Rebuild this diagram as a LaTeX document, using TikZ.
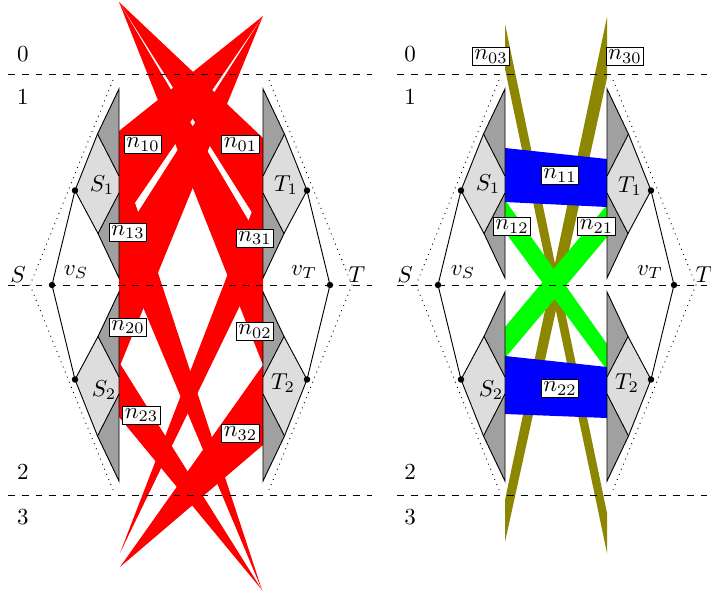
\documentclass[tikz,border=0pt]{standalone}
\usepackage{tikz}
\definecolor{sidelight}{RGB}{221,221,221}
\definecolor{sidedark}{RGB}{160,160,160}

\begin{document}
\begin{tikzpicture}[x=0.4348pt, y=-0.4348pt,
    flowlbl/.style={draw, fill=white, inner sep=1pt},
    layer/.style={dashed},
    side/.pic={
      \foreach \s in {1,-1}{
        \begin{scope}[yscale=\s]
          \fill[sidelight] (-44,-94.5) -- (-21.5,-151) -- (0,-109) -- (0,-92) -- (-21,-51.5) -- cycle;
          \fill[sidedark] (0,-196) -- (-21.5,-151) -- (0,-109) -- cycle;
          \fill[sidedark] (0,-92) -- (-21,-51.5) -- (0,-7) -- cycle;
          \draw (-44,-94.5) -- (-21.5,-151) -- (0,-196) -- (0,-7) -- (-21,-51.5) -- cycle;
          \draw (-21.5,-151) -- (0,-109) (0,-92) -- (-21,-51.5);
          \draw (-67,0) -- (-44,-94.5);
          \fill (-44,-94.5) circle[radius=1.4pt];
        \end{scope}
      }
      \draw[dotted] (-6,-205) -- (-89,0) -- (-6,205);
      \fill (-67,0) circle[radius=1.4pt];
    }]
  \useasboundingbox (0,0) rectangle (711,592);

  % left picture: red flows
  \fill[red] (119,131) -- (119,226) -- (263,16) -- cycle;
  \fill[red] (119,154) -- (119,250) -- (262,590) -- cycle;
  \fill[red] (119,242) -- (119,368) -- (263,16) -- cycle;
  \fill[red] (119,362) -- (119,417) -- (262,590) -- cycle;
  \fill[red] (263,138) -- (263,230) -- (119,2) -- cycle;
  \fill[red] (263,183) -- (263,258) -- (120,553) -- cycle;
  \fill[red] (263,245) -- (263,365) -- (119,2) -- cycle;
  \fill[red] (263,365) -- (263,445) -- (120,567) -- cycle;

  % right picture: flows
  \fill[olive] (505,24) -- (607,513) -- (607,553) -- (505,69) -- cycle;
  \fill[olive] (607,17) -- (505,500) -- (505,542) -- (607,78) -- cycle;
  \fill[green] (505,200) -- (505,232) -- (607,370) -- (607,344) -- cycle;
  \fill[green] (505,327) -- (505,358) -- (607,237) -- (607,205) -- cycle;
  \fill[blue] (505,148) -- (505,202) -- (607,207) -- (607,159) -- cycle;
  \fill[blue] (505,356) -- (505,414) -- (607,418) -- (607,367) -- cycle;

  % gadgets
  \pic at (119,285) {side};
  \pic[xscale=-1] at (263,285) {side};
  \pic at (505,285) {side};
  \pic[xscale=-1] at (607,285) {side};

  % time layers
  \foreach \y in {74,285,495}{
    \draw[layer] (8,\y) -- (372,\y);
    \draw[layer] (397,\y) -- (711,\y);
  }
  \foreach \x/\p in {23/a,410/b}{
    \node (\p0) at (\x,54) {0};
    \node (\p1) at (\x,97) {1};
    \node (\p2) at (\x,472) {2};
    \node (\p3) at (\x,517) {3};
  }

  % left picture: labels
  \node (lS) at (18,275) {$S$};
  \node (lT) at (357,275) {$T$};
  \node (lvS) at (76,272) {$v_S$};
  \node (lvT) at (304,272) {$v_T$};
  \node (lS1) at (102,185) {$S_1$};
  \node (lS2) at (104,390) {$S_2$};
  \node (lT1) at (286,185) {$T_1$};
  \node (lT2) at (283,383) {$T_2$};
  \node[flowlbl] (l10) at (143,144.5) {$n_{10}$};
  \node[flowlbl] (l01) at (240.5,144.5) {$n_{01}$};
  \node[flowlbl] (l13) at (128,232) {$n_{13}$};
  \node[flowlbl] (l31) at (255,238) {$n_{31}$};
  \node[flowlbl] (l20) at (128,327) {$n_{20}$};
  \node[flowlbl] (l02) at (255,331.5) {$n_{02}$};
  \node[flowlbl] (l23) at (141.5,415) {$n_{23}$};
  \node[flowlbl] (l32) at (240.5,433.5) {$n_{32}$};

  % right picture: labels
  \node (rS) at (405,275) {$S$};
  \node (rT) at (704,275) {$T$};
  \node (rvS) at (463,272) {$v_S$};
  \node (rvT) at (650,272) {$v_T$};
  \node (rS1) at (488,184) {$S_1$};
  \node (rS2) at (491,390) {$S_2$};
  \node (rT1) at (630,186) {$T_1$};
  \node (rT2) at (627,383) {$T_2$};
  \node[flowlbl] (r03) at (491,56.5) {$n_{03}$};
  \node[flowlbl] (r30) at (625,56.5) {$n_{30}$};
  \node[flowlbl] (r11) at (560,175.5) {$n_{11}$};
  \node[flowlbl] (r12) at (512,226.5) {$n_{12}$};
  \node[flowlbl] (r21) at (596.5,226.5) {$n_{21}$};
  \node[flowlbl] (r22) at (560,388.5) {$n_{22}$};
\end{tikzpicture}
\end{document}
